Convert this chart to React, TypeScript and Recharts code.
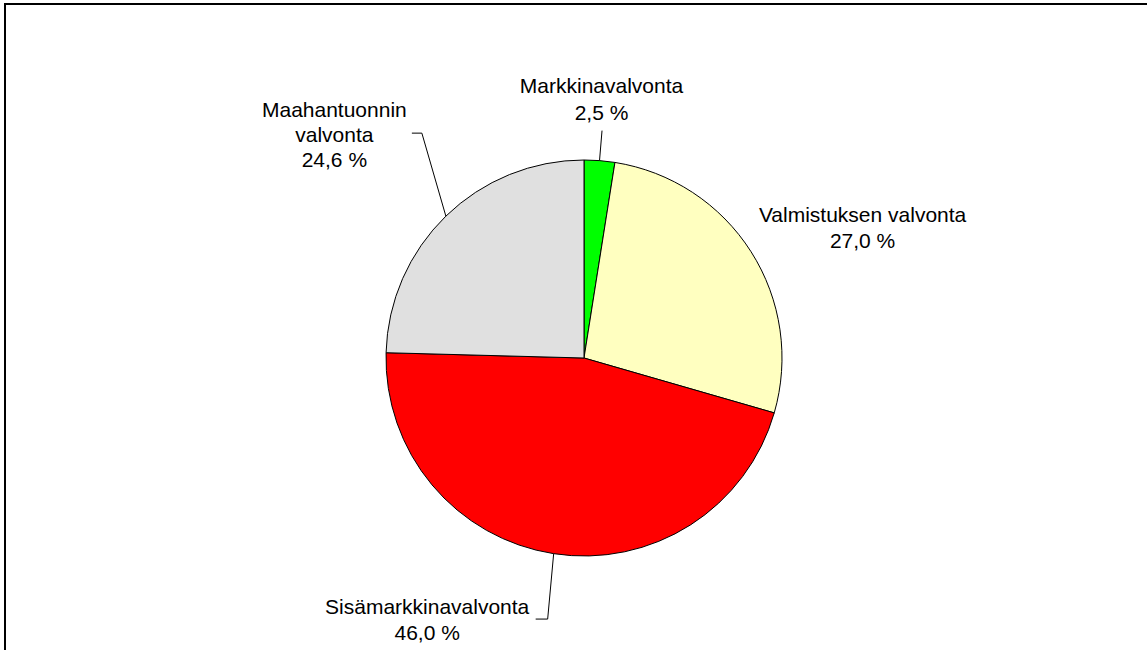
import React from "react";
import { PieChart, Pie, Cell } from "recharts";

const categories = [
  "Markkinavalvonta",
  "Valmistuksen valvonta",
  "Sisämarkkinavalvonta",
  "Maahantuonnin valvonta",
];
const shares = [2.5, 27.0, 46.0, 24.6];
const colors = ["#00FF00", "#FFFFC0", "#FF0000", "#E0E0E0"];

const data = categories.map((name, i) => ({ name, value: shares[i] }));

// label layout relative to the slice's outer mid point
const labelLayout = [
  { lines: 1, dx: 2, dy: -67.6, elbow: null, end: [2.5, -30] },
  { lines: 1, dx: 111.5, dy: -30, elbow: null, end: null },
  { lines: 1, dx: -126.5, dy: 60.4, elbow: [-6, 65.4], end: [-18, 65.4] },
  { lines: 2, dx: -111.5, dy: -99, elbow: [-24, -83], end: [-34, -83] },
];
const lineGaps = [27, 26, 26, 25];

const RAD = Math.PI / 180;
const FONT = "'Liberation Sans', Arial, sans-serif";

const renderLabel = (props: any) => {
  const { cx, cy, midAngle, outerRadius, index, value } = props;
  const px = cx + outerRadius * Math.cos(-midAngle * RAD);
  const py = cy + outerRadius * Math.sin(-midAngle * RAD);
  const lay = labelLayout[index];
  const name = categories[index];
  const nameLines = lay.lines === 2 ? name.split(" ") : [name];
  const allLines = [...nameLines, value.toFixed(1).replace(".", ",") + " %"];
  const gap = lineGaps[index];
  let path = "";
  if (lay.end) {
    path = `M${px},${py}`;
    if (lay.elbow) path += ` L${px + lay.elbow[0]},${py + lay.elbow[1]}`;
    path += ` L${px + lay.end[0]},${py + lay.end[1]}`;
  }
  return (
    <g>
      {path && <path d={path} stroke="#000" strokeWidth={1} fill="none" />}
      <text
        x={px + lay.dx}
        y={py + lay.dy}
        textAnchor="middle"
        fontFamily={FONT}
        fontSize={21}
        fill="#000"
      >
        {allLines.map((t, k) => (
          <tspan key={k} x={px + lay.dx} y={py + lay.dy + k * gap}>
            {t}
          </tspan>
        ))}
      </text>
    </g>
  );
};

export default function App() {
  return (
    <div
      style={{
        position: "absolute",
        left: 0,
        top: 0,
        width: 1147,
        height: 650,
        background: "#fff",
        overflow: "hidden",
      }}
    >
      <div
        style={{
          position: "absolute",
          left: 4,
          top: 3,
          width: 1200,
          height: 700,
          borderLeft: "2px solid #000",
          borderTop: "2px solid #000",
          boxSizing: "border-box",
        }}
      />
      <div style={{ position: "absolute", left: 0, top: 0 }}>
        <PieChart width={1147} height={650} margin={{ top: 0, right: 0, bottom: 0, left: 0 }}>
          <Pie
            data={data}
            dataKey="value"
            nameKey="name"
            cx={584}
            cy={358}
            outerRadius={198}
            startAngle={90}
            endAngle={-270}
            stroke="#000"
            strokeWidth={1}
            label={renderLabel}
            labelLine={false}
            isAnimationActive={false}
          >
            {data.map((d, i) => (
              <Cell key={d.name} fill={colors[i]} />
            ))}
          </Pie>
        </PieChart>
      </div>
    </div>
  );
}
